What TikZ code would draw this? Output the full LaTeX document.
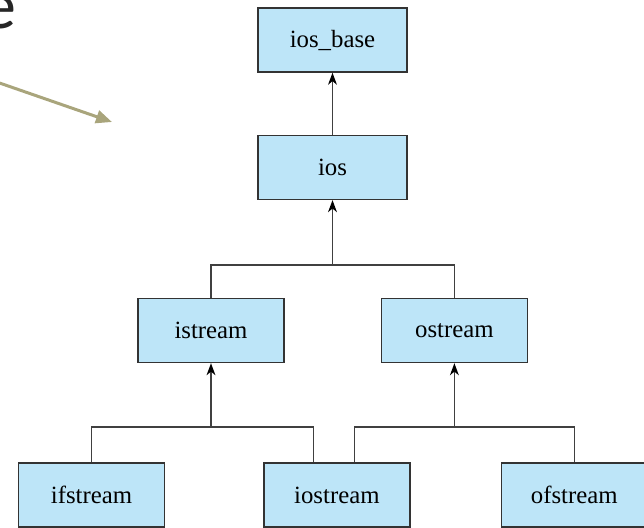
\documentclass[tikz,border=0pt]{standalone}
\usepackage{fontspec}
\setmainfont{Liberation Serif}
\newfontfamily\slidefont{Carlito}
\usepackage{xcolor}
\usetikzlibrary{arrows.meta,positioning}
\definecolor{classblue}{HTML}{BDE5F8}
\definecolor{calloutkhaki}{HTML}{A9A57C}

\begin{document}
\begin{tikzpicture}[x=0.5pt, y=-0.5pt,
  cls/.style={rectangle, draw=black!80, fill=classblue, line width=0.7pt,
              minimum width=73pt, minimum height=32pt, inner sep=0pt,
              align=center, font=\fontsize{12.4}{14}\selectfont},
  link/.style={draw=black!75, line width=0.8pt},
  inh/.style={link, -{Stealth[length=6pt, width=4.4pt, inset=1.8pt, color=black]}}
]
  \clip (0,0) rectangle (644,527);

  \node[font=\slidefont\fontsize{34}{38}\selectfont, text=black!85, inner sep=0pt,
        anchor=base east] (titlee) at (17,28) {e};
  \coordinate (calloutstart) at (-12,79);
  \coordinate (calloutend) at (112,122);
  \draw[calloutkhaki, line width=1.5pt, -{Triangle[length=8pt, width=6.5pt]}]
    (calloutstart) -- (calloutend);

  \node[cls, minimum width=74.5pt] (iosbase) at (332.5,40) {ios\_base};
  \node[cls, minimum width=74.5pt, below=31pt of iosbase] (ios) {ios};
  \node[cls] (istream) at (211,330.5) {istream};
  \node[cls, right=48pt of istream] (ostream) {ostream};
  \node[cls] (ifstream) at (91.5,495) {ifstream};
  \node[cls, right=49pt of ifstream] (iostream) {iostream};
  \node[cls, right=45pt of iostream] (ofstream) {ofstream};

  \coordinate (topjoin) at ([yshift=-32.5pt]ios.south);
  \coordinate (leftjoin) at ([yshift=-31.75pt]istream.south);
  \coordinate (rightjoin) at ([yshift=-31.75pt]ostream.south);
  \coordinate (ioleft) at ([xshift=-11.75pt]iostream.north);
  \coordinate (ioright) at ([xshift=8.75pt]iostream.north);

  \draw[inh] (ios.north) -- (iosbase.south);
  \draw[link] (istream.north) |- (topjoin) -| (ostream.north);
  \draw[inh] (topjoin) -- (ios.south);
  \draw[link] (ifstream.north) |- (ioleft |- leftjoin) -- (ioleft);
  \draw[inh] (leftjoin) -- (istream.south);
  \draw[link] (ioright) |- (ofstream.north |- rightjoin) -- (ofstream.north);
  \draw[inh] (rightjoin) -- (ostream.south);
\end{tikzpicture}
\end{document}
